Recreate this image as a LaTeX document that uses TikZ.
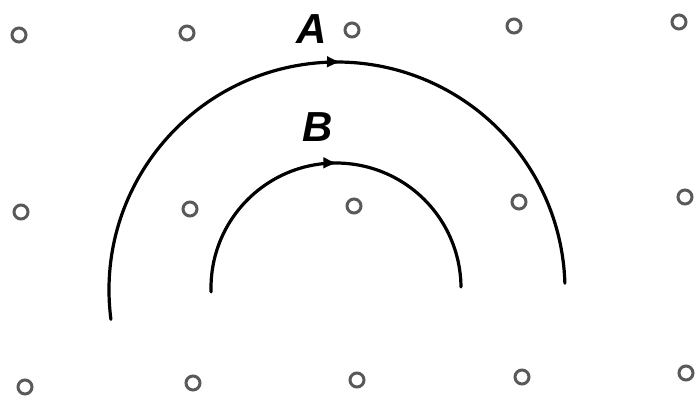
\documentclass[tikz,border=0pt]{standalone}
\usepackage{fontspec}
\setmainfont{Liberation Sans}
\usetikzlibrary{decorations.markings,arrows.meta}
\tikzset{
  dot/.style={circle,draw=black!65,line width=3pt,minimum size=14pt,inner sep=0pt},
  orbit/.style={line width=3.2pt,line cap=round},
  lab/.style={font=\fontsize{42}{42}\selectfont\bfseries\itshape,inner sep=0pt},
}
\begin{document}
\begin{tikzpicture}[x=1pt,y=-1pt]
\useasboundingbox (0,0) rectangle (697,405);
% grid of dots
\node[dot] (d11) at (19,35) {};
\node[dot] (d12) at (187,33) {};
\node[dot] (d13) at (352,30) {};
\node[dot] (d14) at (514,26) {};
\node[dot] (d15) at (679,22) {};
\node[dot] (d21) at (21,212) {};
\node[dot] (d22) at (190,209) {};
\node[dot] (d23) at (354,206) {};
\node[dot] (d24) at (519,202) {};
\node[dot] (d25) at (685,197) {};
\node[dot] (d31) at (25,387) {};
\node[dot] (d32) at (193,383) {};
\node[dot] (d33) at (357,380) {};
\node[dot] (d34) at (522,377) {};
\node[dot] (d35) at (686,373) {};
% orbits
\coordinate (cA) at (337,290);
\coordinate (cB) at (336,288);
\draw[orbit,postaction={decorate},decoration={markings,mark=at position 0.53 with {\arrow{Latex[length=14pt,width=12pt]}}}]
  ([shift={(172.6:228)}]cA) arc[start angle=172.6,end angle=358.3,radius=228];
\draw[orbit,postaction={decorate},decoration={markings,mark=at position 0.51 with {\arrow{Latex[length=14pt,width=12pt]}}}]
  ([shift={(178.2:125)}]cB) arc[start angle=178.2,end angle=359.5,radius=125];
% labels
\node[lab] (A) at (312,29) {A};
\node[lab] (B) at (318,127) {B};
\end{tikzpicture}
\end{document}
